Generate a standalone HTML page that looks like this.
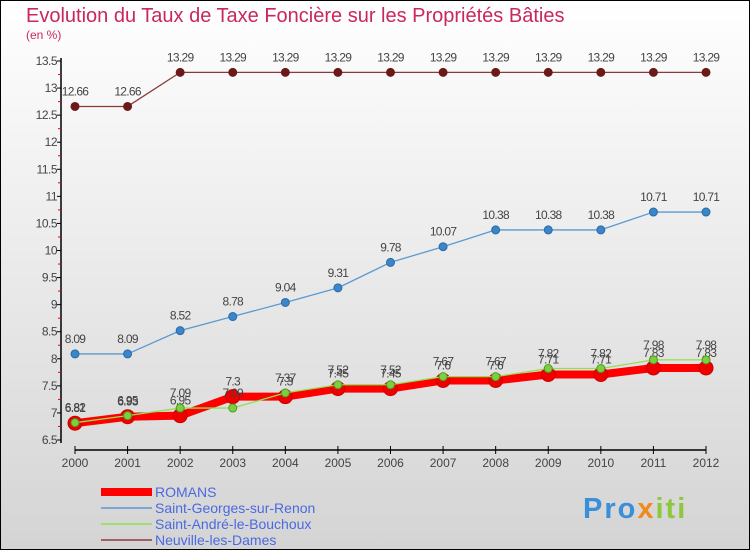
<!DOCTYPE html>
<html><head><meta charset="utf-8"><style>
body{margin:0}
#c{width:750px;height:550px;position:relative;overflow:hidden;font-family:"Liberation Sans",sans-serif}
</style></head><body>
<div id="c">
<svg id="s" width="750" height="550" xmlns="http://www.w3.org/2000/svg">
<defs><linearGradient id="bg" x1="0" y1="0" x2="0" y2="1"><stop offset="0" stop-color="#ffffff"/><stop offset="1" stop-color="#d4d4d4"/></linearGradient></defs>
<rect x="0.5" y="0.5" width="749" height="549" fill="url(#bg)" stroke="#000"/>
<text x="26" y="22" font-size="20" fill="#c8285a">Evolution du Taux de Taxe Foncière sur les Propriétés Bâties</text>
<text x="26" y="39" font-size="12" fill="#c8285a">(en %)</text>
<g id="axes"></g><g id="series"></g><g id="legend"></g>
<text x="583" y="518" font-size="29" font-weight="bold" letter-spacing="2" fill="#3a8fd8">Pro<tspan fill="#f08a1c">x</tspan><tspan fill="#8cc83c">iti</tspan></text>
</svg></div>
<script>
const years=[2000,2001,2002,2003,2004,2005,2006,2007,2008,2009,2010,2011,2012];
const yTicks=[6.5,7,7.5,8,8.5,9,9.5,10,10.5,11,11.5,12,12.5,13,13.5];
const romans=[6.81,6.93,6.95,7.3,7.3,7.45,7.45,7.6,7.6,7.71,7.71,7.83,7.83];
const stGeorges=[8.09,8.09,8.52,8.78,9.04,9.31,9.78,10.07,10.38,10.38,10.38,10.71,10.71];
const stAndre=[6.82,6.95,7.09,7.09,7.37,7.52,7.52,7.67,7.67,7.82,7.82,7.98,7.98];
const neuville=[12.66,12.66,13.29,13.29,13.29,13.29,13.29,13.29,13.29,13.29,13.29,13.29,13.29];
const NS="http://www.w3.org/2000/svg";
const xS=i=>75+i*(706-75)/(years.length-1);
const yS=v=>440-(v-6.5)*(440-61)/7;
function mk(p,t,a){const e=document.createElementNS(NS,t);for(const k in a)e.setAttribute(k,a[k]);p.appendChild(e);return e;}
const ax=document.getElementById('axes');
const yl=mk(ax,'line',{x1:61,y1:58,x2:61,y2:443,stroke:'#000','stroke-width':1.5});


yTicks.forEach((t,i)=>{
 mk(ax,'line',{x1:57,x2:61,y1:yS(t),y2:yS(t),stroke:'#000'});
 if(i<yTicks.length-1){mk(ax,'line',{x1:58,x2:61,y1:yS(t+0.25),y2:yS(t+0.25),stroke:'#e00'});}
 const tx=mk(ax,'text',{x:57,y:yS(t)+4,'text-anchor':'end','font-size':12,fill:'#444','letter-spacing':'-0.5'});
 tx.textContent=String(t);
 
 
});
const xl=mk(ax,'line',{x1:75,y1:450,x2:706,y2:450,stroke:'#000','stroke-width':1.5});


years.forEach((y,i)=>{
 mk(ax,'line',{x1:xS(i),x2:xS(i),y1:446,y2:454,stroke:'#000'});
 const tx=mk(ax,'text',{x:xS(i),y:467,'text-anchor':'middle','font-size':12,fill:'#444'});
 tx.textContent=String(y);
 
 
});
const sg=document.getElementById('series');
function series(name,vals,color,w,r,dot,dotStroke){
 const g=mk(sg,'g',{});
 
 
 mk(g,'polyline',{points:vals.map((v,i)=>xS(i)+','+yS(v)).join(' '),fill:'none',stroke:color,'stroke-width':w,'stroke-linejoin':'round'});
 vals.forEach((v,i)=>{
  const c=mk(g,'circle',{cx:xS(i),cy:yS(v),r:r,fill:dot,stroke:dotStroke,'stroke-width':1});
  
  
  const t=mk(g,'text',{x:xS(i),y:yS(v)-11,'text-anchor':'middle','font-size':12,fill:'#444','letter-spacing':'-0.7'});
  t.textContent=String(v);
  
  
 });
}
series('neuville',neuville,'#8b3a3a',1.3,4,'#6b1a1a','#6b1a1a');
series('saint-georges',stGeorges,'#5a9ad2',1.3,4,'#3a86c8','#2a6aa8');
series('romans',romans,'#ff0000',8,7,'#ee0000','#cc0000');
series('saint-andre',stAndre,'#90e050',1.3,4,'#7cd040','#4a9a20');
const lg=document.getElementById('legend');
const items=[['ROMANS','#ff0000',8],['Saint-Georges-sur-Renon','#5a9ad2',1.5],['Saint-André-le-Bouchoux','#90e050',1.5],['Neuville-les-Dames','#8b3a3a',1.5]];
items.forEach((it,i)=>{
 const y=492+i*16;
 const g=mk(lg,'g',{});
 
 
 mk(g,'line',{x1:101,x2:152,y1:y,y2:y,stroke:it[1],'stroke-width':it[2]});
 const t=mk(g,'text',{x:155,y:y+5,'font-size':14,fill:'#4a6ae0'});
 t.textContent=it[0];
});
</script>
</body></html>
